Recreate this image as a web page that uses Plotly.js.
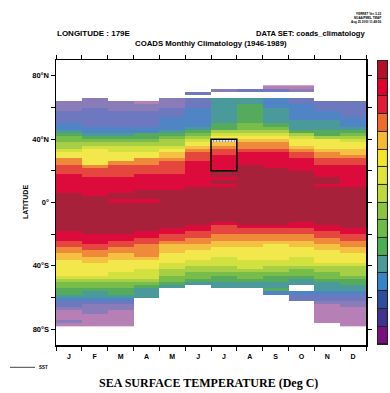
<!DOCTYPE html>
<html>
<head>
<meta charset="utf-8">
<script src="https://cdn.plot.ly/plotly-3.0.1.min.js"></script>
<style>html,body{margin:0;padding:0;background:#fff;}#chart{width:390px;height:393px;}</style>
</head>
<body>
<div id="chart"></div>
<script>
// Month axis
const MONTH_POS = [1,2,3,4,5,6,7,8,9,10,11,12];
const MONTH_LABELS = ['J','F','M','A','M','J','J','A','S','O','N','D'];

// Latitude cell centres (north -> south), 2 degree COADS grid
const LAT = [73,71,69,67,65,63,61,59,57,55,53,51,49,47,45,43,41,39,37,35,33,31,29,27,25,23,21,19,17,15,13,11,9,7,5,3,1,
  -1,-3,-5,-7,-9,-11,-13,-15,-17,-19,-21,-23,-25,-27,-29,-31,-33,-35,-37,-39,-41,-43,-45,-47,-49,-51,-53,-55,-57,-59,-61,-63,-65,-67,-69,-71,-73,-75,-77];

// SST (deg C) at 179E, one array per month, north -> south (null = no data)
const sstJan = [null,null,null,null,null,2.6,3.1,3.8,4.3,4.9,5.4,5.9,6.6,7.5,9.2,11.0,12.4,13.6,14.5,15.6,17.2,18.6,19.5,22.4,23.6,24.5,25.2,25.9,
  26.3,26.8,27.2,27.5,27.7,27.9,28.2,28.4,28.6,28.8,28.9,28.9,28.8,28.7,28.6,28.4,28.3,28.1,27.8,27.3,26.6,25.8,24.9,23.8,22.6,21.5,20.3,
  19.7,19.1,18.6,18.3,18.1,16.8,15.1,13.7,12.3,11.2,10.1,8.6,6.8,5.2,4.1,2.7,1.6,1.1,0.6,2.2,1.0];
const sstFeb = [null,null,null,null,2.4,3.0,3.6,4.2,4.6,5.0,5.3,5.6,5.9,6.5,7.4,9.1,10.8,12.6,14.8,16.9,18.2,18.7,19.1,19.5,19.9,22.8,24.4,25.1,25.8,
  26.2,26.6,27.0,27.3,27.6,27.9,28.1,28.3,28.5,28.7,28.8,28.9,28.9,28.8,28.7,28.6,28.4,28.2,27.9,27.5,26.8,25.9,24.8,23.6,22.4,21.4,20.2,
  19.6,19.0,18.5,18.1,16.9,15.0,13.6,12.2,10.9,9.3,8.1,6.6,4.8,3.5,2.9,2.3,1.7,1.2,0.8,0.5];
const sstMar = [null,null,null,null,null,2.5,3.0,3.7,4.3,4.8,5.2,5.6,5.9,6.6,7.6,9.0,10.9,12.8,14.9,16.3,17.5,18.4,19.0,19.7,22.7,24.3,24.9,25.4,25.9,
  26.4,26.9,27.3,27.6,27.9,28.1,28.2,27.9,28.1,28.4,28.6,28.8,28.9,29.0,28.9,28.8,28.5,28.2,27.8,27.0,25.8,24.7,23.6,22.3,21.2,20.1,
  19.6,19.0,18.5,18.1,17.2,16.3,15.1,13.5,12.3,11.3,10.2,8.7,6.7,4.9,3.4,2.5,1.8,1.4,1.0,0.7,0.9];
const sstApr = [null,null,null,null,null,1.2,2.8,3.6,4.2,4.7,5.1,5.5,5.9,6.7,7.7,10.4,11.6,13.0,15.0,16.4,17.6,18.5,19.4,22.5,23.5,24.4,25.0,25.7,
  26.2,26.6,27.0,27.4,27.8,28.1,28.3,28.2,27.9,28.2,28.5,28.7,28.9,29.0,28.9,28.7,28.4,28.1,27.7,27.0,25.9,24.8,23.8,23.1,22.6,22.1,21.0,
  19.6,18.9,18.2,17.6,16.9,16.2,15.0,13.1,11.0,9.6,8.9,8.3,null,null,null,null,null,null,null,null,null];
const sstMay = [null,null,null,null,2.3,3.0,3.7,4.3,4.9,5.6,6.2,6.7,7.2,7.8,9.0,11.0,12.9,14.3,15.4,16.8,19.0,20.6,21.5,22.9,24.2,24.7,25.2,25.7,
  26.2,26.6,27.0,27.4,27.8,28.1,28.3,28.4,28.5,28.7,28.9,29.0,28.9,28.7,28.5,28.3,28.1,27.6,26.6,25.5,24.4,23.0,21.8,21.1,20.4,
  19.6,18.9,18.2,17.4,16.5,15.6,14.6,13.4,12.4,11.1,9.4,null,null,null,null,null,null,null,null,null,null,null,null];
const sstJun = [null,null,4.6,null,4.3,4.8,5.5,6.1,6.4,6.8,7.1,7.5,7.9,9.2,11.2,13.1,15.0,17.1,18.9,20.9,22.8,24.2,24.9,25.6,
  26.1,26.4,26.8,27.1,27.4,27.6,27.8,27.9,28.1,28.3,28.5,28.7,28.9,29.0,28.9,28.7,28.5,28.3,28.2,28.1,27.6,26.8,25.6,24.4,23.5,22.3,21.4,20.3,
  19.6,18.9,18.1,17.3,16.4,15.3,14.4,13.5,12.4,11.0,9.1,null,null,null,null,null,null,null,null,null,null,null,null,null];
const sstJul = [null,3.2,null,null,8.2,8.4,8.6,8.8,9.0,9.3,9.5,9.8,10.4,11.3,14.2,16.6,18.4,19.6,21.1,22.9,24.3,25.4,
  26.2,26.7,27.1,27.5,27.8,28.1,28.2,27.9,28.2,27.9,28.2,28.4,28.6,28.8,28.9,28.9,28.8,28.6,28.4,28.2,28.1,27.4,25.9,25.1,24.3,23.4,22.4,21.5,20.6,
  19.7,18.9,18.2,17.6,16.9,16.2,15.3,14.3,13.1,11.7,10.5,9.5,8.6,null,null,null,null,null,null,null,null,null,null,null,null];
const sstAug = [null,4.6,null,null,8.8,9.6,10.2,10.6,10.9,11.2,11.5,11.8,12.4,13.5,15.1,17.0,18.9,20.8,22.4,23.5,25.1,26.1,26.7,27.3,27.8,
  28.1,28.3,28.4,28.5,28.6,28.7,28.8,28.9,29.0,29.0,28.9,28.9,28.8,28.7,28.6,28.5,28.3,28.2,28.1,27.3,25.7,24.6,23.5,22.4,21.5,20.5,
  19.7,19.1,18.6,18.1,17.5,16.8,16.2,15.2,13.6,12.4,11.1,9.6,8.8,null,null,null,null,null,null,null,null,null,null,null,null];
const sstSep = [0.8,4.5,null,null,6.3,6.8,7.4,8.1,8.6,9.1,9.5,9.9,10.8,12.7,14.9,16.8,18.9,20.9,22.5,23.6,24.8,26.1,26.6,27.0,27.5,27.8,
  28.1,28.2,28.3,28.5,28.6,28.7,28.8,28.9,29.0,29.0,28.9,28.8,28.7,28.6,28.5,28.4,28.2,28.1,27.4,25.7,24.5,23.4,22.3,21.1,
  19.8,19.3,18.9,18.5,18.1,17.4,16.4,15.5,14.4,13.2,11.6,10.7,9.6,9.1,10.2,7.0,null,null,null,null,null,null,null,null,null,null];
const sstOct = [0.9,2.8,null,null,4.8,5.6,6.2,6.6,7.0,7.4,7.8,8.4,9.1,9.8,11.2,14.6,16.9,18.4,19.5,20.9,22.8,24.3,25.4,26.2,26.8,27.3,27.8,
  28.1,28.2,28.4,28.6,28.7,28.8,28.9,29.0,29.0,28.9,28.8,28.7,28.5,28.4,28.2,28.1,27.8,27.1,25.8,24.6,23.5,22.5,21.6,20.5,
  19.6,18.9,18.2,17.6,16.9,16.2,15.1,13.6,12.5,11.1,9.6,8.7,null,null,6.6,5.1,4.4,null,null,null,null,null,null,null,null];
const sstNov = [null,null,null,null,null,4.2,4.9,5.6,6.4,7.0,7.6,8.3,8.9,9.6,10.4,11.5,14.8,18.2,18.9,19.6,21.0,22.4,23.5,24.6,25.5,
  26.2,26.7,27.2,27.7,28.1,28.1,27.9,28.2,28.4,28.6,28.8,28.9,29.0,29.0,28.9,28.7,28.5,28.3,28.1,27.7,27.0,25.9,24.7,23.7,22.5,21.5,20.4,
  19.7,19.2,18.7,18.2,17.1,15.7,14.5,13.5,12.3,11.0,9.7,9.0,8.3,6.8,5.4,4.3,3.0,1.9,1.5,1.1,0.8,0.6,0.4,null];
const sstDec = [null,null,null,null,null,4.1,4.5,5.0,5.4,5.8,6.3,6.9,7.6,9.0,11.0,13.0,15.0,17.0,18.5,19.4,20.6,21.5,22.7,24.4,25.5,
  26.1,26.5,26.9,27.2,27.5,27.7,27.9,28.1,28.3,28.5,28.7,28.8,28.9,29.0,29.0,28.9,28.7,28.5,28.3,28.1,27.7,26.9,25.7,24.6,23.6,22.5,21.5,20.4,
  19.7,19.0,18.3,17.1,15.8,15.0,14.2,13.1,11.6,10.5,9.5,8.6,7.0,5.4,4.4,3.3,2.4,1.8,1.4,1.1,0.8,0.6,0.5];

// Contour levels (deg C) and fill colours used in the field
const LEVELS = [0,2,4,6,8,10,12,14,16,18,20,22,24,26,28,30];
const HEAT_COLORS = ['#b67fb6','#8a7cb9','#6e78bf','#4f85c5','#4a9a9c','#55aa5b','#78bd4a','#a6cf45',
  '#d2e040','#f3e84b','#f5c142','#ef8a3a','#e5463e','#dc0b3b','#a8213a'];

// Colour key boxes (bottom -> top)
const KEY_LEVELS = [0,1,2,3,4,5,6,7,8,9,10,11,12,13,14,15];
const KEY_COLORS = ['#7a0f80','#3f338f','#2a4f9f','#3385c8','#4a9a98','#4aaf50','#6bbd45','#8bc43f',
  '#bcd83a','#dfe33a','#f3e52a','#f5b82e','#ee6b2a','#e31a35','#e0002e','#b5102a'];

// Highlighted region (month index, latitude range) and hatched cell
const BOX_MONTH = 7, BOX_LAT = [20, 40];
const HATCH_MONTH = [7], HATCH_BASE = [38], HATCH_SIZE = [2];

const months = [sstJan,sstFeb,sstMar,sstApr,sstMay,sstJun,sstJul,sstAug,sstSep,sstOct,sstNov,sstDec];
const z = LAT.map((lat, i) => months.map(m => m[i]));

function discrete(colors) {
  const n = colors.length, cs = [];
  colors.forEach((c, k) => { cs.push([k / n, c]); cs.push([(k + 1) / n, c]); });
  return cs;
}

const FONT = 'Liberation Sans, Arial, sans-serif';

const traces = [
  {
    type: 'heatmap', x: MONTH_POS, y: LAT, z: z,
    colorscale: discrete(HEAT_COLORS), zmin: LEVELS[0], zmax: LEVELS[LEVELS.length - 1],
    showscale: false, hoverinfo: 'skip', xaxis: 'x', yaxis: 'y'
  },
  {
    type: 'bar', x: HATCH_MONTH, y: HATCH_SIZE, base: HATCH_BASE, width: 1,
    marker: { color: '#ffffff', line: { width: 0 },
      pattern: { shape: '.', fgcolor: '#555555', bgcolor: '#ffffff', size: 3, solidity: 0.45 } },
    hoverinfo: 'skip', xaxis: 'x', yaxis: 'y'
  },
  {
    type: 'heatmap', x: [0], y: KEY_LEVELS, z: KEY_LEVELS.map(v => [v]),
    colorscale: discrete(KEY_COLORS), zmin: -0.5, zmax: 15.5, ygap: 1,
    showscale: false, hoverinfo: 'skip', xaxis: 'x2', yaxis: 'y2'
  }
];

const P = (px) => (px - 56) / 332;
const Q = (py) => (345 - py) / 285;

const layout = {
  width: 390, height: 393,
  margin: { l: 56, r: 2, t: 60, b: 48, pad: 0 },
  paper_bgcolor: '#ffffff', plot_bgcolor: '#ffffff',
  showlegend: false,
  font: { family: FONT, color: '#000' },
  xaxis: {
    domain: [0, 310 / 332], range: [0.5, 12.5], anchor: 'y',
    tickvals: MONTH_POS, ticktext: MONTH_LABELS,
    ticks: 'outside', ticklen: 4, tickcolor: 'rgba(0,0,0,0)',
    minor: { ticks: 'outside', tick0: 0.5, dtick: 1, ticklen: 4, tickwidth: 1, tickcolor: '#000', showgrid: false },
    showline: true, linecolor: '#000', linewidth: 1.5, mirror: 'ticks',
    showgrid: false, zeroline: false,
    tickfont: { size: 7, family: FONT, weight: 'bold', color: '#000' }
  },
  yaxis: {
    domain: [0, 1], range: [-90, 90], anchor: 'x',
    tickvals: [-80, -40, 0, 40, 80], ticktext: ['80°S', '40°S', '0°', '40°N', '80°N'],
    ticks: 'outside', ticklen: 4, tickwidth: 1, tickcolor: '#000',
    minor: { ticks: 'outside', tick0: 0, dtick: 20, ticklen: 4, tickwidth: 1, tickcolor: '#000', showgrid: false },
    showline: true, linecolor: '#000', linewidth: 1.5, mirror: 'ticks',
    showgrid: false, zeroline: false,
    tickfont: { size: 7.5, family: FONT, weight: 'bold', color: '#000' }
  },
  xaxis2: { domain: [321 / 332, 1], range: [-0.6, 0.6], anchor: 'y2', visible: false, fixedrange: true },
  yaxis2: { domain: [0, 1], range: [-0.55, 15.55], anchor: 'x2', visible: false, fixedrange: true },
  bargap: 0,
  shapes: [
    { type: 'rect', xref: 'x2 domain', yref: 'y2 domain', x0: 0, x1: 1, y0: 0, y1: 1,
      fillcolor: '#222222', line: { width: 0 }, layer: 'below' },
    { type: 'rect', xref: 'x', yref: 'y', x0: BOX_MONTH - 0.5, x1: BOX_MONTH + 0.5, y0: BOX_LAT[0], y1: BOX_LAT[1],
      line: { color: '#000', width: 1.5 }, fillcolor: 'rgba(0,0,0,0)' },
    { type: 'line', xref: 'paper', yref: 'paper', x0: P(10), x1: P(35), y0: Q(367.3), y1: Q(367.3),
      line: { color: '#444', width: 1 } }
  ],
  annotations: [
    { text: 'LONGITUDE : 179E', xref: 'paper', yref: 'paper', x: P(55), y: Q(33.5), xanchor: 'left', yanchor: 'middle',
      showarrow: false, font: { size: 8, family: FONT, weight: 'bold' } },
    { text: 'DATA SET: coads_climatology', xref: 'paper', yref: 'paper', x: P(367), y: Q(33.5), xanchor: 'right', yanchor: 'middle',
      showarrow: false, font: { size: 7.6, family: FONT, weight: 'bold' } },
    { text: 'COADS Monthly Climatology (1946-1989)', xref: 'paper', yref: 'paper', x: P(210.7), y: Q(43.7), xanchor: 'center', yanchor: 'middle',
      showarrow: false, font: { size: 7.8, family: FONT, weight: 'bold' } },
    { text: 'FERRET Ver. 5.22<br>NOAA/PMEL TMAP<br>Aug 25 2000 11:48:56', xref: 'paper', yref: 'paper', x: P(384), y: Q(18), xanchor: 'right', yanchor: 'middle',
      align: 'right', showarrow: false, font: { size: 3, family: FONT, weight: 'bold' } },
    { text: 'LATITUDE', xref: 'paper', yref: 'paper', x: P(25), y: Q(202), xanchor: 'center', yanchor: 'middle', textangle: -90,
      showarrow: false, font: { size: 7, family: FONT, weight: 'bold' } },
    { text: 'SST', xref: 'paper', yref: 'paper', x: P(37), y: Q(367.3), xanchor: 'left', yanchor: 'middle',
      showarrow: false, font: { size: 4.5, family: FONT, weight: 'bold' } },
    { text: 'SEA SURFACE TEMPERATURE (Deg C)', xref: 'paper', yref: 'paper', x: P(208.5), y: Q(383), xanchor: 'center', yanchor: 'middle',
      showarrow: false, font: { size: 12, family: 'Liberation Serif, Times New Roman, serif', weight: 'bold' } }
  ]
};

Plotly.newPlot('chart', traces, layout, { staticPlot: true, displayModeBar: false });
</script>
</body>
</html>
